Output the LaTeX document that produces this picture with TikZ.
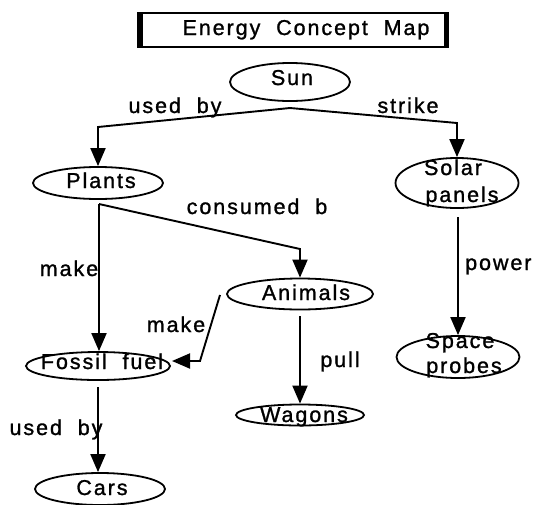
\documentclass[tikz,border=0pt]{standalone}
\usepackage{fontspec}
\setmainfont[LetterSpace=9,WordSpace=2,FakeBold=1.2]{Liberation Sans}
\usetikzlibrary{arrows.meta,shapes.geometric}
\begin{document}
\begin{tikzpicture}[x=1pt,y=-1pt,
  concept/.style={draw=black,line width=1.8pt,ellipse,inner sep=0pt},
  lbl/.style={anchor=base,inner sep=0pt,font=\fontsize{21.5}{25}\selectfont},
  conn/.style={line width=1.9pt,-{Triangle[width=15pt,length=18pt]}}]
\useasboundingbox (0,0) rectangle (538,504);
% title frame
\fill[black] (137,12) rectangle (449,48);
\fill[white] (143,14) rectangle (444,46);
\node[lbl] (title) at (306,35) {Energy Concept Map};
% concepts
\node[concept,minimum width=120pt,minimum height=38pt] (Sun) at (290,82) {};
\node[concept,minimum width=130pt,minimum height=32pt] (Plants) at (98,183) {};
\node[concept,minimum width=123pt,minimum height=50pt] (Solar) at (457,183) {};
\node[concept,minimum width=146pt,minimum height=31pt] (Animals) at (300,294) {};
\node[concept,minimum width=144pt,minimum height=28pt] (Fossil) at (98,366) {};
\node[concept,minimum width=123pt,minimum height=42pt] (Space) at (458,357) {};
\node[concept,minimum width=128pt,minimum height=21pt] (Wagons) at (300,415) {};
\node[concept,minimum width=130pt,minimum height=32pt] (Cars) at (100,489) {};
% concept texts
\node[lbl] (tSun) at (292,85) {Sun};
\node[lbl] (tPlants) at (101,188) {Plants};
\node[lbl] (tSolar) at (453,175) {Solar};
\node[lbl] (tPanels) at (462,202) {panels};
\node[lbl] (tAnimals) at (306,300) {Animals};
\node[lbl] (tFossil) at (102,369) {Fossil fuel};
\node[lbl] (tSpace) at (460,348) {Space};
\node[lbl] (tProbes) at (464,373) {probes};
\node[lbl] (tWagons) at (304,422) {Wagons};
\node[lbl] (tCars) at (102,495) {Cars};
% bend points
\coordinate (sunj) at (290,108);
\coordinate (bl) at (98,127);
\coordinate (br) at (457,123);
\coordinate (pj) at (99,204);
\coordinate (cj) at (300,249);
\coordinate (aw) at (300,316);
\coordinate (am) at (220,295);
\coordinate (amb) at (200,361);
\coordinate (ft) at (172,361);
\coordinate (fc) at (98,387);
\coordinate (sp) at (458,217);
% connectors
\draw[conn] (sunj) -- (bl) -- (Plants.north);
\draw[conn] (sunj) -- (br) -- (Solar.north);
\draw[conn] (pj) -- (pj |- Fossil.north);
\draw[conn] (pj) -- (cj) -- (Animals.north);
\draw[conn] (aw) -- (Wagons.north);
\draw[conn] (am) -- (amb) -- (ft);
\draw[conn] (fc) -- (fc |- Cars.north);
\draw[conn] (sp) -- (Space.north);
% link labels
\node[lbl] (l1) at (175,113) {used by};
\node[lbl] (l2) at (408,113) {strike};
\node[lbl] (l3) at (257,214) {consumed b};
\node[lbl] (l4) at (69,276) {make};
\node[lbl] (l5) at (176,332) {make};
\node[lbl] (l6) at (340,367) {pull};
\node[lbl,anchor=base west] (l7) at (465,270) {power};
\node[lbl] (l8) at (56,435) {used by};
\end{tikzpicture}
\end{document}
